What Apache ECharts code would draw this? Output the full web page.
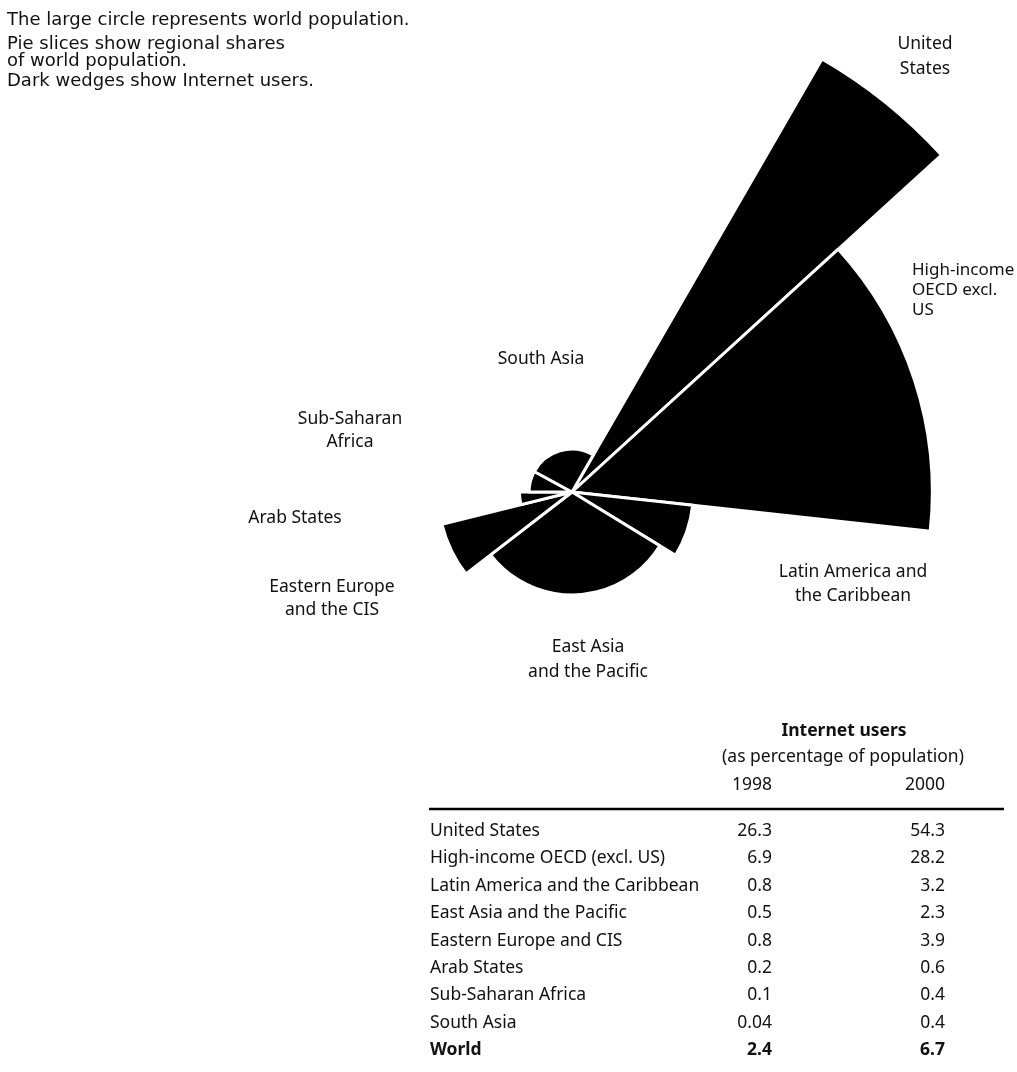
<!DOCTYPE html>
<html>
<head>
<meta charset="utf-8">
<script src="https://cdn.jsdelivr.net/npm/echarts@6/dist/echarts.min.js"></script>
<style>
html,body{margin:0;padding:0;background:#fff;}
#chart{width:1017px;height:1072px;}
</style>
</head>
<body>
<div id="chart"></div>
<script>
// ---- data ----
const regions = ['United States', 'High-income OECD (excl. US)', 'Latin America and the Caribbean',
  'East Asia and the Pacific', 'Eastern Europe and CIS', 'Arab States', 'Sub-Saharan Africa', 'South Asia'];
// share of world population (%)
const popShare = [4.9, 13.5, 7.0, 30.8, 6.6, 3.9, 7.9, 25.4];
// Internet users as % of population
const users1998 = [26.3, 6.9, 0.8, 0.5, 0.8, 0.2, 0.1, 0.04];
const users2000 = [54.3, 28.2, 3.2, 2.3, 3.9, 0.6, 0.4, 0.4];
const worldLabel = 'World';
const world1998 = 2.4;
const world2000 = 6.7;
const users1998Text = ['26.3', '6.9', '0.8', '0.5', '0.8', '0.2', '0.1', '0.04'];
const users2000Text = ['54.3', '28.2', '3.2', '2.3', '3.9', '0.6', '0.4', '0.4'];
const world1998Text = '2.4';
const world2000Text = '6.7';
const sliceLabels = ['United\nStates', 'High-income\nOECD excl.\nUS', 'Latin America and\nthe Caribbean',
  'East Asia\nand the Pacific', 'Eastern Europe\nand the CIS', 'Arab States', 'Sub-Saharan\nAfrica', 'South Asia'];
const notes = ['The large circle represents world population.', 'Pie slices show regional shares',
  'of world population.', 'Dark wedges show Internet users.'];
const tableTitle = 'Internet users';
const tableSubtitle = '(as percentage of population)';
const yearLabels = ['1998', '2000'];

// ---- layout ----
const FONT = '"Noto Sans", "DejaVu Sans", sans-serif';
const NOTE_FONT = '"DejaVu Sans", "Noto Sans", sans-serif';
const CX = 572, CY = 492, RMAX = 500, START = 60;
const uMax = Math.max.apply(null, users2000);
const total = popShare.reduce((a, b) => a + b, 0);

const series = [];
let cum = 0;
regions.forEach((name, i) => {
  const share = popShare[i];
  series.push({
    type: 'pie',
    name: name,
    center: [CX, CY],
    radius: [0, RMAX * Math.sqrt(users2000[i] / uMax)],
    startAngle: START - 360 * cum / total,
    clockwise: true,
    silent: true,
    animation: false,
    avoidLabelOverlap: false,
    label: { show: false },
    labelLine: { show: false },
    emphasis: { disabled: true },
    data: [
      { name: name, value: share, itemStyle: { color: '#000', borderColor: '#fff', borderWidth: 3 } },
      { name: 'rest', value: total - share, itemStyle: { color: 'rgba(0,0,0,0)', borderWidth: 0 } }
    ]
  });
  cum += share;
});

function txt(text, x, y, opts) {
  opts = opts || {};
  return {
    type: 'text', silent: true,
    style: {
      text: text, x: x, y: y,
      font: (opts.weight || 'normal') + ' ' + (opts.size || 17.5) + 'px ' + (opts.family || FONT),
      fill: '#111',
      align: opts.align || 'left', textAlign: opts.align || 'left',
      verticalAlign: 'middle', textVerticalAlign: 'middle',
      lineHeight: opts.lh || 23
    }
  };
}

const graphics = [];
// notes
const noteY = [20, 44, 61, 81];
notes.forEach((t, i) => graphics.push(txt(t, 7, noteY[i], { size: 18, family: NOTE_FONT })));
// slice labels
const labelPos = [
  [925, 57, 'center', 25, 17.5], [912, 290, 'left', 20, 17], [853, 584, 'center', 24, 17.5],
  [588, 660, 'center', 25, 17.5], [332, 599, 'center', 23, 17.5], [295, 518, 'center', 23, 17.5],
  [350, 431, 'center', 23, 17.5], [541, 359, 'center', 23, 17.5]
];
sliceLabels.forEach((t, i) => {
  const p = labelPos[i];
  graphics.push(txt(t, p[0], p[1], { align: p[2], size: p[4], lh: p[3] }));
});
// table
const tx = 430, col1 = 772, col2 = 945;
graphics.push(txt(tableTitle, 844, 731, { align: 'center', weight: 'bold', size: 17.5 }));
graphics.push(txt(tableSubtitle, 843, 757, { align: 'center', size: 17.5 }));
graphics.push(txt(yearLabels[0], col1, 785, { align: 'right', size: 17.5 }));
graphics.push(txt(yearLabels[1], col2, 785, { align: 'right', size: 17.5 }));
graphics.push({ type: 'line', silent: true, shape: { x1: tx - 1, y1: 809, x2: 1004, y2: 809 },
  style: { stroke: '#000', lineWidth: 2.5 } });
const rowY0 = 831, rowStep = 27.4;
regions.forEach((name, i) => {
  const y = rowY0 + i * rowStep;
  graphics.push(txt(name, tx, y, { size: 17.5 }));
  graphics.push(txt(users1998Text[i], col1, y, { align: 'right', size: 17.5 }));
  graphics.push(txt(users2000Text[i], col2, y, { align: 'right', size: 17.5 }));
});
const yW = rowY0 + regions.length * rowStep;
graphics.push(txt(worldLabel, tx, yW, { size: 17.5, weight: 'bold' }));
graphics.push(txt(world1998Text, col1, yW, { align: 'right', size: 17.5, weight: 'bold' }));
graphics.push(txt(world2000Text, col2, yW, { align: 'right', size: 17.5, weight: 'bold' }));

const chart = echarts.init(document.getElementById('chart'), null, { renderer: 'canvas' });
chart.setOption({
  backgroundColor: '#fff',
  animation: false,
  series: series,
  graphic: { elements: graphics }
});
</script>
</body>
</html>
